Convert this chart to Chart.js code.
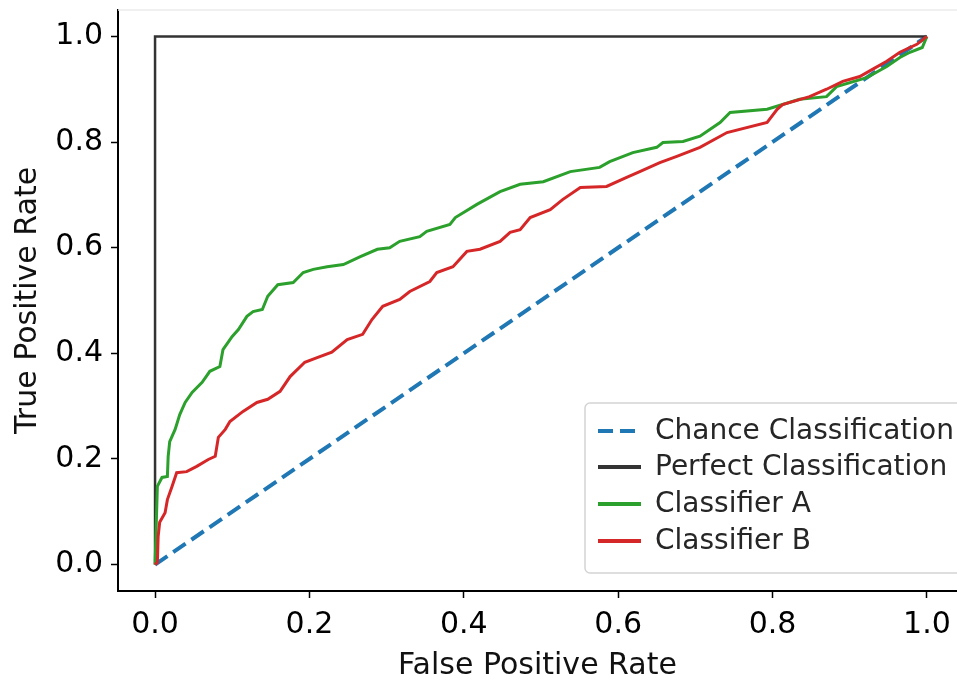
<!DOCTYPE html>
<html>
<head>
<meta charset="utf-8">
<script src="https://cdn.jsdelivr.net/npm/chart.js@4.4.1/dist/chart.umd.min.js"></script>
<style>
  html, body { margin: 0; padding: 0; background: #fff; }
  #wrap { width: 957px; height: 684px; }
</style>
</head>
<body>
<div id="wrap"><canvas id="roc"></canvas></div>
<script>
// ROC curves
const chanceFpr = [0, 1];
const chanceTpr = [0, 1];

const perfectFpr = [0, 0, 1];
const perfectTpr = [0, 1, 1];

const aFpr = [0, 0.003, 0.009, 0.016, 0.017, 0.019, 0.026, 0.032, 0.039, 0.048, 0.061, 0.071, 0.084, 0.088, 0.100,
    0.108, 0.119, 0.127, 0.139, 0.146, 0.159, 0.179, 0.192, 0.205, 0.223, 0.244, 0.266, 0.288, 0.304, 0.317,
    0.343, 0.352, 0.382, 0.389, 0.417, 0.447, 0.473, 0.503, 0.538, 0.576, 0.589, 0.619, 0.650, 0.658, 0.684,
    0.706, 0.732, 0.745, 0.793, 0.835, 0.870, 0.883, 0.922, 0.948, 0.965, 0.978, 0.994, 1.0];
const aTpr = [0, 0.148, 0.165, 0.167, 0.205, 0.233, 0.256, 0.284, 0.307, 0.326, 0.345, 0.366, 0.375, 0.407, 0.432,
    0.445, 0.470, 0.479, 0.483, 0.508, 0.530, 0.534, 0.553, 0.559, 0.564, 0.568, 0.583, 0.597, 0.600, 0.612,
    0.621, 0.631, 0.644, 0.657, 0.682, 0.706, 0.720, 0.725, 0.744, 0.752, 0.763, 0.780, 0.790, 0.799, 0.801,
    0.811, 0.837, 0.856, 0.862, 0.881, 0.886, 0.905, 0.922, 0.943, 0.960, 0.970, 0.979, 1.0];

const bFpr = [0, 0.003, 0.004, 0.006, 0.013, 0.016, 0.022, 0.028, 0.041, 0.054, 0.069, 0.078, 0.082, 0.091, 0.097,
    0.114, 0.132, 0.146, 0.162, 0.175, 0.194, 0.210, 0.229, 0.249, 0.269, 0.281, 0.295, 0.317, 0.330, 0.356,
    0.365, 0.386, 0.404, 0.421, 0.447, 0.460, 0.473, 0.486, 0.512, 0.528, 0.551, 0.585, 0.611, 0.628, 0.654,
    0.676, 0.706, 0.741, 0.793, 0.806, 0.813, 0.848, 0.870, 0.891, 0.913, 0.930, 0.948, 0.965, 0.987, 1.0];
const bTpr = [0, 0.004, 0.053, 0.080, 0.098, 0.123, 0.148, 0.174, 0.176, 0.186, 0.199, 0.205, 0.241, 0.256, 0.271,
    0.290, 0.307, 0.313, 0.328, 0.356, 0.383, 0.392, 0.402, 0.426, 0.436, 0.464, 0.489, 0.502, 0.517, 0.536,
    0.553, 0.564, 0.593, 0.597, 0.612, 0.629, 0.634, 0.657, 0.672, 0.691, 0.714, 0.716, 0.733, 0.744, 0.761,
    0.773, 0.790, 0.818, 0.837, 0.862, 0.871, 0.886, 0.900, 0.915, 0.924, 0.938, 0.953, 0.970, 0.985, 1.0];

const xTicks = [0, 0.2, 0.4, 0.6, 0.8, 1.0];
const yTicks = [0, 0.2, 0.4, 0.6, 0.8, 1.0];

const seriesNames = ["Chance Classification", "Perfect Classification", "Classifier A", "Classifier B"];

const toPoints = (xs, ys) => xs.map((x, i) => ({ x: x, y: ys[i] }));

const FONT = "'DejaVu Sans', sans-serif";

// legend box in the lower right, drawn like matplotlib's
const rocLegend = {
    id: 'rocLegend',
    beforeDatasetsDraw(chart) {
        const { ctx, chartArea } = chart;
        ctx.save();
        ctx.strokeStyle = '#ebebeb';
        ctx.lineWidth = 1.5;
        ctx.beginPath();
        ctx.moveTo(chartArea.left, chartArea.top);
        ctx.lineTo(chartArea.right, chartArea.top);
        ctx.stroke();
        ctx.restore();
    },
    afterDatasetsDraw(chart) {
        const ctx = chart.ctx;
        const box = { x: 585, y: 403, w: 380, h: 170, r: 5 };
        ctx.save();
        ctx.beginPath();
        ctx.roundRect(box.x, box.y, box.w, box.h, box.r);
        ctx.fillStyle = 'rgba(255,255,255,0.85)';
        ctx.fill();
        ctx.strokeStyle = '#d4d4d4';
        ctx.lineWidth = 1.5;
        ctx.stroke();

        const rows = [431, 467, 504, 541];
        ctx.font = '28px ' + FONT;
        ctx.textBaseline = 'middle';
        ctx.fillStyle = '#262626';
        chart.data.datasets.forEach((ds, i) => {
            const y = rows[i];
            ctx.beginPath();
            ctx.strokeStyle = ds.borderColor;
            ctx.lineWidth = 4;
            ctx.setLineDash(ds.borderDash || []);
            ctx.moveTo(598, y);
            ctx.lineTo(641, y);
            ctx.stroke();
            ctx.setLineDash([]);
            ctx.fillText(ds.label, 655, y + 1);
        });
        ctx.restore();
    }
};

new Chart(document.getElementById('roc'), {
    type: 'line',
    data: {
        datasets: [{
            label: seriesNames[0],
            data: toPoints(chanceFpr, chanceTpr),
            borderColor: '#1f77b4',
            borderWidth: 4,
            borderDash: [15, 7],
            order: 4
        }, {
            label: seriesNames[1],
            data: toPoints(perfectFpr, perfectTpr),
            borderColor: '#333333',
            borderWidth: 2.5,
            order: 3
        }, {
            label: seriesNames[2],
            data: toPoints(aFpr, aTpr),
            borderColor: '#2ca02c',
            borderWidth: 3,
            order: 2
        }, {
            label: seriesNames[3],
            data: toPoints(bFpr, bTpr),
            borderColor: '#d62728',
            borderWidth: 3,
            order: 1
        }]
    },
    options: {
        responsive: true,
        maintainAspectRatio: false,
        animation: false,
        layout: { padding: { top: 10, right: 0, left: 0, bottom: 0 } },
        elements: {
            point: { radius: 0 },
            line: { tension: 0, fill: false, borderJoinStyle: 'miter' }
        },
        plugins: {
            legend: { display: false },
            tooltip: { enabled: false }
        },
        scales: {
            x: {
                type: 'linear',
                min: -0.048,
                max: 1.039,
                afterBuildTicks: (scale) => { scale.ticks = xTicks.map(v => ({ value: v })); },
                afterFit: (scale) => {
                    scale.height = 93;
                    scale.paddingLeft = 0;
                    scale.paddingRight = 0;
                },
                grid: { drawOnChartArea: false, tickLength: 7, tickColor: '#000', tickWidth: 1.5 },
                border: { color: '#000', width: 2 },
                ticks: {
                    color: '#000',
                    padding: 9,
                    maxRotation: 0,
                    font: { family: FONT, size: 30 },
                    callback: (v) => Number(v).toFixed(1)
                },
                title: {
                    display: true,
                    text: 'False Positive Rate',
                    color: '#111',
                    font: { family: FONT, size: 30 },
                    padding: { top: 0, bottom: 0 }
                }
            },
            y: {
                type: 'linear',
                min: -0.05,
                max: 1.05,
                afterBuildTicks: (scale) => { scale.ticks = yTicks.map(v => ({ value: v })); },
                afterFit: (scale) => {
                    scale.width = 118;
                    scale.paddingTop = 0;
                    scale.paddingBottom = 0;
                },
                grid: { drawOnChartArea: false, tickLength: 7, tickColor: '#000', tickWidth: 1.5 },
                border: { color: '#000', width: 2 },
                ticks: {
                    color: '#000',
                    padding: 8,
                    font: { family: FONT, size: 30 },
                    callback: (v) => Number(v).toFixed(1)
                },
                title: {
                    display: true,
                    text: 'True Positive Rate',
                    color: '#111',
                    font: { family: FONT, size: 30 },
                    padding: { top: 10, bottom: 0 }
                }
            }
        }
    },
    plugins: [rocLegend]
});
</script>
</body>
</html>
